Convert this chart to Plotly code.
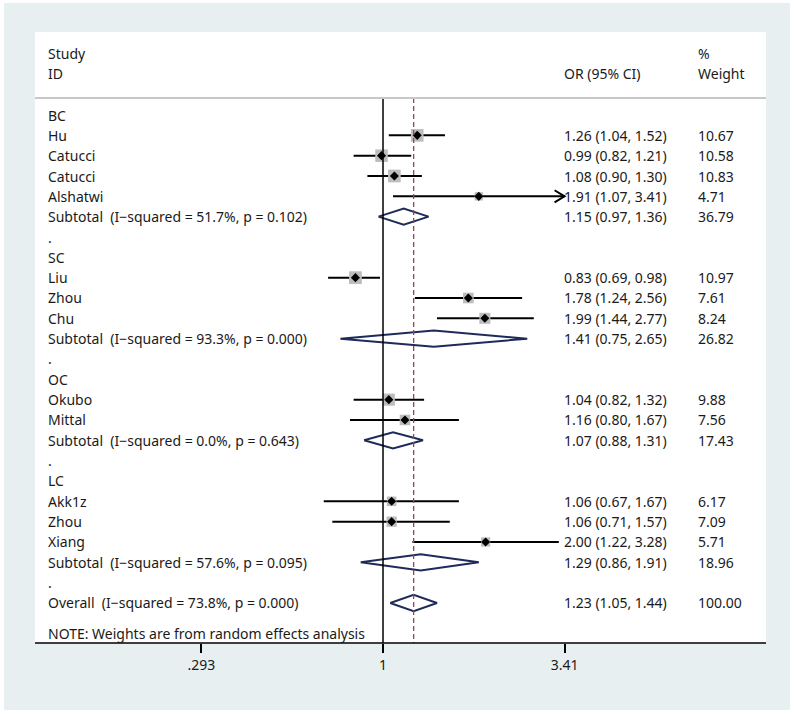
import math
import plotly.graph_objects as go

# ---------------- data ----------------
labels = ["BC", "Hu", "Catucci", "Catucci", "Alshatwi", "Subtotal", ".",
          "SC", "Liu", "Zhou", "Chu", "Subtotal", ".",
          "OC", "Okubo", "Mittal", "Subtotal", ".",
          "LC", "Akk1z", "Zhou", "Xiang", "Subtotal", ".",
          "Overall"]
kinds = ["h", "s", "s", "s", "s", "d", "b",
         "h", "s", "s", "s", "d", "b",
         "h", "s", "s", "d", "b",
         "h", "s", "s", "s", "d", "b",
         "d"]
or_est = [None, 1.26, 0.99, 1.08, 1.91, 1.15, None,
          None, 0.83, 1.78, 1.99, 1.41, None,
          None, 1.04, 1.16, 1.07, None,
          None, 1.06, 1.06, 2.00, 1.29, None,
          1.23]
ci_lo = [None, 1.04, 0.82, 0.90, 1.07, 0.97, None,
         None, 0.69, 1.24, 1.44, 0.75, None,
         None, 0.82, 0.80, 0.88, None,
         None, 0.67, 0.71, 1.22, 0.86, None,
         1.05]
ci_hi = [None, 1.52, 1.21, 1.30, 3.41, 1.36, None,
         None, 0.98, 2.56, 2.77, 2.65, None,
         None, 1.32, 1.67, 1.31, None,
         None, 1.67, 1.57, 3.28, 1.91, None,
         1.44]
weights = [None, 10.67, 10.58, 10.83, 4.71, 36.79, None,
           None, 10.97, 7.61, 8.24, 26.82, None,
           None, 9.88, 7.56, 17.43, None,
           None, 6.17, 7.09, 5.71, 18.96, None,
           100.00]
het_i2 = {5: "51.7%", 11: "93.3%", 16: "0.0%", 22: "57.6%", 24: "73.8%"}
het_p = {5: "0.102", 11: "0.000", 16: "0.643", 22: "0.095", 24: "0.000"}
tick_vals = [0.293, 1, 3.41]
tick_text = [".293", "1", "3.41"]
x_max = 3.41
note = "NOTE: Weights are from random effects analysis"

# ---------------- layout helpers ----------------
W, H = 794, 714
FONT = "Noto Sans"
FS = 14
TXT = "#1a1a1a"
NAVY = "#1e2b5a"

def py(px):  # pixel y -> paper y
    return 1 - px / H

def pxp(px):  # pixel x -> paper x
    return px / W

rows = [i + 1 for i in range(len(labels))]

fig = go.Figure()

# boxes + CI lines for studies
for i, k in enumerate(kinds):
    if k != "s":
        continue
    r = rows[i]
    hi = min(ci_hi[i], x_max)
    fig.add_trace(go.Scatter(x=[ci_lo[i], hi], y=[r, r], mode="lines",
                             line=dict(color="black", width=2), hoverinfo="skip",
                             showlegend=False))
    fig.add_trace(go.Scatter(x=[or_est[i]], y=[r], mode="markers",
                             marker=dict(symbol="square", size=3.85 * math.sqrt(weights[i]),
                                         color="#bdbdbd", line=dict(width=0)),
                             hoverinfo="skip", showlegend=False))
    if ci_hi[i] >= x_max:
        # open arrow head
        xb = x_max * math.exp(-10 / 148)
        fig.add_trace(go.Scatter(x=[xb, x_max, xb], y=[r - 0.3, r, r + 0.3], mode="lines",
                                 line=dict(color="black", width=2), hoverinfo="skip",
                                 showlegend=False))

# point estimate dots
sx = [or_est[i] for i, k in enumerate(kinds) if k == "s"]
sy = [rows[i] for i, k in enumerate(kinds) if k == "s"]
fig.add_trace(go.Scatter(x=sx, y=sy, mode="markers",
                         marker=dict(symbol="diamond", size=7, color="black"),
                         hoverinfo="skip", showlegend=False))

# diamonds for pooled estimates
for i, k in enumerate(kinds):
    if k != "d":
        continue
    r = rows[i]
    h = 0.4
    fig.add_trace(go.Scatter(x=[ci_lo[i], or_est[i], ci_hi[i], or_est[i], ci_lo[i]],
                             y=[r, r - h, r, r + h, r], mode="lines",
                             line=dict(color=NAVY, width=2), fill="toself",
                             fillcolor="white", hoverinfo="skip", showlegend=False))

# vertical reference lines
y_top = 0.16
y_bot = 26.97
fig.add_trace(go.Scatter(x=[1, 1], y=[y_top, y_bot], mode="lines",
                         line=dict(color="black", width=1.5), hoverinfo="skip",
                         showlegend=False))
fig.add_trace(go.Scatter(x=[or_est[-1], or_est[-1]], y=[y_top, y_bot], mode="lines",
                         line=dict(color="#8c4a55", width=1.3, dash="5px,3px"),
                         hoverinfo="skip", showlegend=False))

# text
ann = []
def txt(x, y, s, xref="paper"):
    ann.append(dict(x=x, y=y, xref=xref, yref="y", text=s, showarrow=False,
                    xanchor="left", yanchor="middle",
                    font=dict(family=FONT, size=FS, color=TXT)))

xl, xo, xw = pxp(46), pxp(562), pxp(696)
txt(xl, -2.05, "Study")
txt(xl, -1.02, "ID")
txt(xo, -1.02, "OR (95% CI)")
txt(xw, -2.05, "%")
txt(xw, -1.02, "Weight")
for i, lab in enumerate(labels):
    r = rows[i]
    s = lab
    if i in het_i2:
        s = f"{lab}\u00a0\u00a0(I\u2212squared = {het_i2[i]}, p = {het_p[i]})"
    txt(xl, r, s)
    if or_est[i] is not None:
        txt(xo, r, f"{or_est[i]:.2f} ({ci_lo[i]:.2f}, {ci_hi[i]:.2f})")
        txt(xw, r, f"{weights[i]:.2f}")
txt(xl, 26.5, note)

shapes = [
    dict(type="rect", xref="paper", yref="paper", x0=pxp(4), x1=pxp(790),
         y0=py(710), y1=py(3), fillcolor="#e8eff1", line=dict(width=0), layer="below"),
    dict(type="rect", xref="paper", yref="paper", x0=pxp(35), x1=pxp(766),
         y0=py(643), y1=py(32), fillcolor="white", line=dict(width=0), layer="below"),
    dict(type="line", xref="paper", yref="paper", x0=pxp(35), x1=pxp(766),
         y0=py(98), y1=py(98), line=dict(color="#c8c8c8", width=2)),
    dict(type="line", xref="paper", yref="paper", x0=pxp(35), x1=pxp(766),
         y0=py(643), y1=py(643), line=dict(color="black", width=1.5)),
]

fig.update_layout(
    width=W, height=H, margin=dict(l=0, r=0, t=0, b=0),
    paper_bgcolor="white", plot_bgcolor="rgba(0,0,0,0)",
    annotations=ann, shapes=shapes, showlegend=False,
    xaxis=dict(type="log", range=[-1.1239, 1.2060], domain=[0, 1],
               tickvals=tick_vals, ticktext=tick_text, ticks="outside", ticklen=9,
               tickwidth=1.5, tickcolor="black", showgrid=False, zeroline=False,
               showline=False, tickfont=dict(family=FONT, size=FS, color=TXT),
               fixedrange=True),
    yaxis=dict(range=[26.97, -4.657], domain=[71 / H, 1], showgrid=False,
               zeroline=False, showticklabels=False, ticks="", showline=False,
               fixedrange=True),
)

fig.write_html("out.html", config={"displayModeBar": False},
               post_script="document.body.style.margin='0';document.body.style.overflow='hidden';")
